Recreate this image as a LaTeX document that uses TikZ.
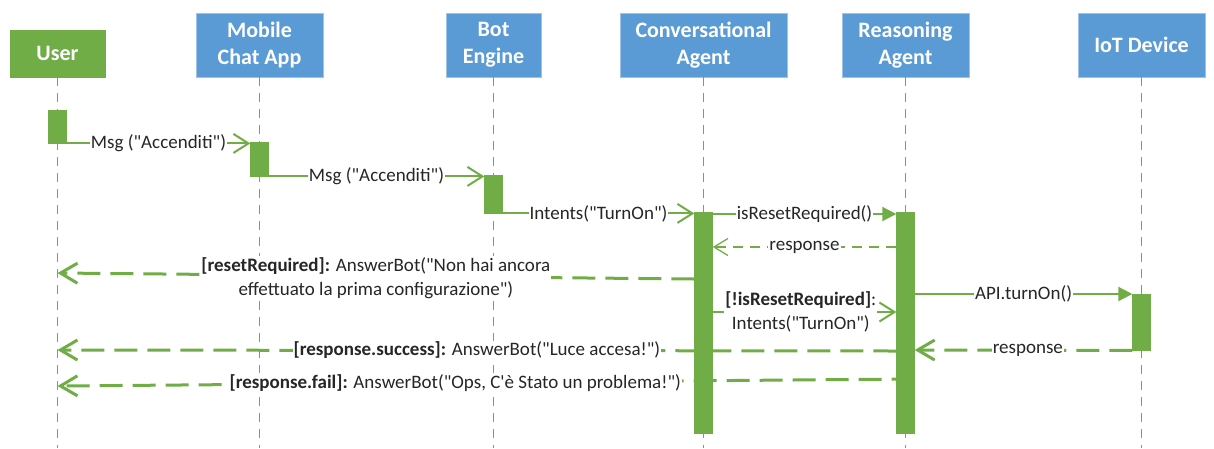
\documentclass[tikz,border=0pt]{standalone}
\usepackage{fontspec}
\setmainfont{Carlito}[Ligatures=TeXOff]
\usetikzlibrary{arrows.meta}
\definecolor{seqgreen}{HTML}{70AD47}
\definecolor{seqblue}{HTML}{5B9BD5}

\begin{document}
\begin{tikzpicture}[x=1pt, y=-1pt,
    head/.style={fill=seqblue, draw=seqblue!60!white, text=white, align=center, inner sep=0pt,
        font=\fontsize{22}{27}\selectfont\bfseries, minimum height=64pt, anchor=north},
    life/.style={seqblue, line width=1.3pt, dash pattern=on 9pt off 7pt},
    bar/.style={fill=seqgreen, draw=seqgreen, minimum width=18pt, inner sep=0pt, anchor=north},
    lbl/.style={fill=white, text=black!85, font=\fontsize{19}{24}\selectfont, inner sep=1pt, align=center},
    msg/.style={seqgreen, line width=2pt, -{Straight Barb[length=15pt,width=19pt]}},
    call/.style={seqgreen, line width=2pt, -{Triangle[length=14pt,width=14pt]}},
    ret/.style={seqgreen, line width=3pt, dash pattern=on 23pt off 10pt, -{Straight Barb[length=17pt,width=20pt]}},
    reply/.style={seqgreen, line width=1.3pt, dash pattern=on 10pt off 7pt, -{Straight Barb[length=14pt,width=17pt]}}]
    \def\B{448}
    \useasboundingbox (0,0) rectangle (1214,\B);

    % heads
    \node[head, fill=seqgreen, draw=seqgreen, minimum width=95pt, minimum height=47pt] (user) at (57.5,30) {User};
    \node[head, minimum width=127pt] (app) at (259.5,13) {Mobile\\Chat App};
    \node[head, minimum width=95pt] (bot) at (493.5,13) {Bot\\Engine};
    \node[head, minimum width=167pt] (conv) at (703.5,13) {Conversational\\Agent};
    \node[head, minimum width=127pt] (reason) at (905.5,13) {Reasoning\\Agent};
    \node[head, minimum width=127pt] (iot) at (1141.5,13) {IoT Device};

    % lifelines
    \draw[life, seqgreen] (user.south) -- (user.south |- 0,\B);
    \foreach \n in {app,bot,conv,reason,iot}
        \draw[life] (\n.south) -- (\n.south |- 0,\B);

    % activations
    \node[bar, minimum height=33pt] (actU) at (user.south |- 0,110) {};
    \node[bar, minimum height=34pt] (actA) at (app.south |- 0,142) {};
    \node[bar, minimum height=38pt] (actB) at (bot.south |- 0,175) {};
    \node[bar, minimum height=221pt] (actC) at (conv.south |- 0,212) {};
    \node[bar, minimum height=221pt] (actR) at (reason.south |- 0,212) {};
    \node[bar, minimum height=56pt] (actI) at (iot.south |- 0,294) {};

    % messages
    \draw[msg] (actU.south east) -- (actU.south east -| actA.west) node[lbl, midway] {Msg ("Accenditi")};
    \draw[msg] (actA.south east) -- (actA.south east -| actB.west) node[lbl, midway] {Msg ("Accenditi")};
    \draw[msg] (actB.south east) -- (actB.south east -| actC.west) node[lbl, midway] {Intents("TurnOn")};
    \draw[call] ([yshift=-2pt]actC.north east) -- ([yshift=-2pt]actC.north east -| actR.west) node[lbl, midway] {isResetRequired()};
    \draw[reply] (actR.west |- 0,247) -- (actC.east |- 0,247) node[lbl, midway] {response};
    \draw[ret] (actC.west |- 0,279) -- (user.south |- 0,273)
        node[lbl, pos=0.5, yshift=-2pt] {\textbf{[resetRequired]:} AnswerBot("Non hai ancora\\effettuato la prima configurazione")};
    \draw[msg] (actC.east |- 0,312) -- (actR.west |- 0,312)
        node[lbl, pos=0.48] {\textbf{[!isResetRequired]}:\\Intents("TurnOn")};
    \draw[call] (actR.east |- 0,294) -- (actI.north west) node[lbl, midway] {API.turnOn()};
    \draw[ret] (actI.south west) -- (actR.east |- 0,350) node[lbl, pos=0.48] {response};
    \draw[ret] (actR.west |- 0,351) -- (user.south |- 0,350)
        node[lbl, pos=0.5] {\textbf{[response.success]:} AnswerBot("Luce accesa!")};
    \draw[ret] (actR.east |- 0,379) -- (user.south |- 0,386)
        node[lbl, pos=0.536] {\textbf{[response.fail]:} AnswerBot("Ops, C'è Stato un problema!")};
\end{tikzpicture}
\end{document}
